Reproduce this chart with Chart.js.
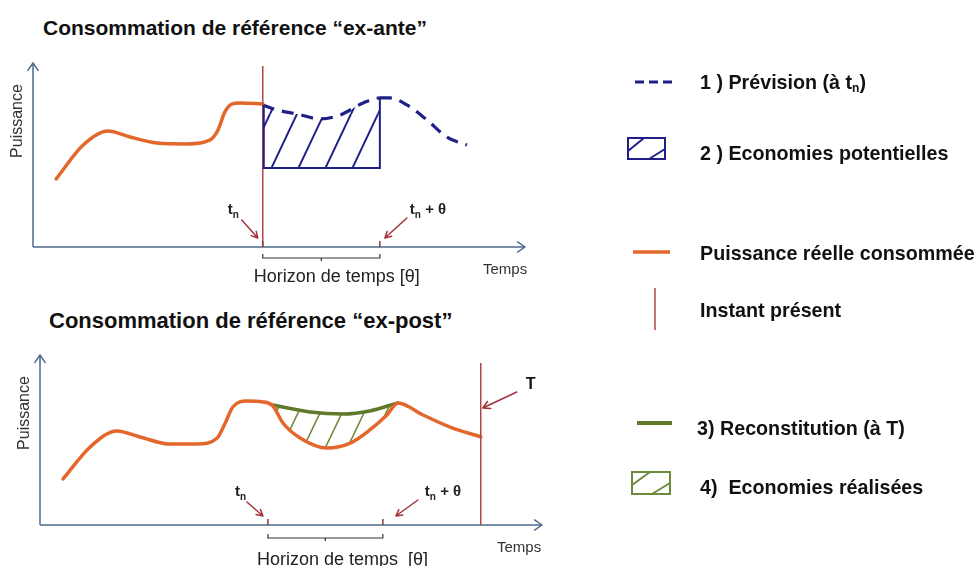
<!DOCTYPE html>
<html lang="fr">
<head>
<meta charset="utf-8">
<title>Consommation de référence ex-ante / ex-post</title>
<script src="https://cdn.jsdelivr.net/npm/chart.js@4.4.1/dist/chart.umd.min.js"></script>
<style>
  body { margin: 0; background: #fff; font-family: "Liberation Sans", Arial, sans-serif; }
  #page { position: relative; width: 978px; height: 566px; overflow: hidden; }
  #page canvas { position: absolute; left: 0; }
  .title { position: absolute; font-weight: bold; line-height: 24px; color: #111; white-space: nowrap; }
  .leg { position: absolute; font-weight: bold; font-size: 19.7px; line-height: 24px; color: #111; white-space: nowrap; }
  .leg sub { font-size: 12px; vertical-align: -3px; line-height: 0; }
  #legSym { position: absolute; left: 0; top: 0; }
</style>
</head>
<body>
<div id="page">
  <div class="title" style="left:43px;top:16px;font-size:21px">Consommation de référence “ex-ante”</div>
  <div class="title" style="left:49px;top:309px;font-size:22px">Consommation de référence “ex-post”</div>
  <canvas id="exAnte" width="600" height="300" style="top:0"></canvas>
  <canvas id="exPost" width="600" height="266" style="top:300px"></canvas>

  <svg id="legSym" width="978" height="566">
    <line x1="635" y1="82" x2="672" y2="82" stroke="#1f1f88" stroke-width="3" stroke-dasharray="9 5"/>
    <rect x="628" y="138" width="37" height="21" fill="none" stroke="#1f1f88" stroke-width="2"/>
    <line x1="628" y1="151" x2="644" y2="138" stroke="#1f1f88" stroke-width="2"/>
    <line x1="649" y1="159" x2="665" y2="149" stroke="#1f1f88" stroke-width="2"/>
    <line x1="633" y1="252" x2="670" y2="252" stroke="#e3672b" stroke-width="3.5"/>
    <line x1="655" y1="288" x2="655" y2="330" stroke="#b04848" stroke-width="1.5"/>
    <line x1="637" y1="423" x2="672" y2="423" stroke="#5f7a2b" stroke-width="4"/>
    <rect x="632" y="472" width="38" height="22" fill="none" stroke="#6b8a3a" stroke-width="2"/>
    <line x1="632" y1="485" x2="650" y2="472" stroke="#6b8a3a" stroke-width="2"/>
    <line x1="652" y1="494" x2="670" y2="483" stroke="#6b8a3a" stroke-width="2"/>
  </svg>
  <div class="leg" style="left:700px;top:70px">1 ) Prévision (à t<sub>n</sub>)</div>
  <div class="leg" style="left:700px;top:141px">2 ) Economies potentielles</div>
  <div class="leg" style="left:700px;top:241px">Puissance réelle consommée</div>
  <div class="leg" style="left:700px;top:298px">Instant présent</div>
  <div class="leg" style="left:697px;top:416px">3) Reconstitution (à T)</div>
  <div class="leg" style="left:700px;top:475px">4)&nbsp; Economies réalisées</div>
</div>

<script>
// ---------- data (time and power in % of the axis length) ----------
// ex-ante : real consumption up to tn, then forecast made at tn
const anteTime = [4.7, 10.2, 15.2, 19.7, 25.2, 31.3, 36.0, 37.6, 39.0, 40.4, 42.1, 46.7];
const antePower = [37.0, 55.4, 63.0, 59.8, 56.5, 56.0, 58.2, 63.6, 73.4, 77.7, 78.3, 77.7];
const forecastTime = [46.7, 49.6, 53.7, 58.3, 62.4, 67.1, 70.5, 72.6, 76.0, 80.1, 84.1, 88.2];
const forecastPower = [77.2, 74.5, 72.3, 69.6, 71.7, 78.3, 81.0, 81.0, 77.2, 69.0, 59.8, 55.4];
const anteTn = 46.7;
const anteTnTheta = 70.5;
const potentialBase = 42.9;
const antePresentTop = 98.4;

// ex-post : real consumption up to T, reconstitution over the horizon
const postTime = [4.6, 10.0, 15.3, 19.9, 25.9, 31.3, 35.3, 36.9, 38.4, 41.2, 44.4, 46.4, 48.4, 51.8, 57.2, 61.8, 65.7, 69.1, 71.3, 76.3, 81.7, 87.8];
const postPower = [27.1, 45.9, 55.3, 51.8, 47.6, 47.6, 51.2, 60.0, 69.4, 72.9, 72.4, 70.0, 60.0, 51.2, 45.3, 48.2, 55.9, 64.7, 71.8, 64.7, 57.6, 51.8];
const reconTime = [46.4, 53.8, 60.4, 65.7, 71.3];
const reconPower = [70.6, 66.5, 65.3, 67.1, 71.8];
const postTn = 45.4;
const postTnTheta = 68.3;
const postT = 87.8;
const postPresentTop = 95.3;

const horizonLabels = ["Horizon de temps [θ]", "Horizon de temps  [θ]"];
const axisLabels = { x: "Temps", y: "Puissance" };

// ---------- styles ----------
const AXIS = "#4d6a8c";
const RED = "#b04848";
const POINTER = "#a3343c";
const ORANGE = "#e3672b";
const BLUE = "#1f1f88";
const GREEN = "#5f7a2b";
const INK = "#222";
const FONT = '"Liberation Sans", Arial, sans-serif';

function pts(xs, ys) {
  return xs.map((x, i) => ({ x: x, y: ys[i] }));
}

// diagonal hatching, tiled so the lines join up
function hatch(color, w, h, lw) {
  const c = document.createElement("canvas");
  c.width = w;
  c.height = h;
  const g = c.getContext("2d");
  g.strokeStyle = color;
  g.lineWidth = lw;
  g.beginPath();
  for (let k = -1; k <= 1; k++) {
    g.moveTo(k * w, h);
    g.lineTo(k * w + w, 0);
  }
  g.stroke();
  return g.createPattern(c, "repeat");
}

function arrow(ctx, x1, y1, x2, y2, color, width, head, spread) {
  const a = Math.atan2(y2 - y1, x2 - x1);
  ctx.save();
  ctx.strokeStyle = color;
  ctx.lineWidth = width;
  ctx.lineCap = "round";
  ctx.lineJoin = "round";
  ctx.beginPath();
  ctx.moveTo(x1, y1);
  ctx.lineTo(x2, y2);
  ctx.moveTo(x2 - head * Math.cos(a - spread), y2 - head * Math.sin(a - spread));
  ctx.lineTo(x2, y2);
  ctx.lineTo(x2 - head * Math.cos(a + spread), y2 - head * Math.sin(a + spread));
  ctx.stroke();
  ctx.restore();
}

// "t" with subscript n, plus an optional suffix
function tLabel(ctx, x, y, suffix) {
  ctx.fillStyle = INK;
  ctx.textBaseline = "middle";
  ctx.textAlign = "left";
  ctx.font = "bold 15px " + FONT;
  ctx.fillText("t", x, y);
  let w = ctx.measureText("t").width;
  ctx.font = "bold 10px " + FONT;
  ctx.fillText("n", x + w, y + 5);
  w += ctx.measureText("n").width;
  if (suffix) {
    ctx.font = "bold 15px " + FONT;
    ctx.fillText(suffix, x + w, y);
  }
}

function makeDecor(p) {
  return {
    id: "decor",
    afterDatasetsDraw(chart) {
      const ctx = chart.ctx;
      const X = (v) => chart.scales.x.getPixelForValue(v);
      const Y = (v) => chart.scales.y.getPixelForValue(v);
      const x0 = X(0), y0 = Y(0), xEnd = X(100), yEnd = Y(100);
      ctx.save();

      // axes with open arrow heads
      ctx.strokeStyle = AXIS;
      ctx.lineWidth = 1.5;
      ctx.beginPath();
      ctx.moveTo(x0, y0);
      ctx.lineTo(xEnd, y0);
      ctx.moveTo(x0, y0);
      ctx.lineTo(x0, yEnd);
      ctx.stroke();
      arrow(ctx, xEnd - 1, y0, xEnd, y0, AXIS, 1.5, 9, 0.6);
      arrow(ctx, x0, yEnd + 1, x0, yEnd, AXIS, 1.5, 9, 0.6);

      // present instant
      ctx.strokeStyle = RED;
      ctx.lineWidth = 1.5;
      ctx.beginPath();
      ctx.moveTo(X(p.present), y0);
      ctx.lineTo(X(p.present), Y(p.presentTop));
      ctx.stroke();

      if (p.extra) p.extra(ctx, X, Y);

      // ticks at tn and tn + θ
      const a = X(p.tn), b = X(p.tnTheta);
      ctx.strokeStyle = "#8a3a3a";
      ctx.lineWidth = 1.5;
      ctx.beginPath();
      ctx.moveTo(a, y0);
      ctx.lineTo(a, y0 - 6);
      ctx.moveTo(b, y0);
      ctx.lineTo(b, y0 - 6);
      ctx.stroke();

      // pointers and labels
      arrow(ctx, a - 21, y0 - p.arrowTop, a - 5, y0 - 9, POINTER, 1.5, 7, 0.5);
      arrow(ctx, b + p.thetaArrowDx, y0 - p.arrowTop - 2, b + p.thetaArrowDx - 22, y0 - 9, POINTER, 1.5, 7, 0.5);
      tLabel(ctx, a - p.tnLabelDx, y0 - p.labelDy);
      tLabel(ctx, b + p.thetaLabelDx, y0 - p.labelDy, " + θ");

      // horizon bracket
      const by = y0 + p.bracketDy;
      ctx.strokeStyle = "#333";
      ctx.lineWidth = 1.2;
      ctx.beginPath();
      ctx.moveTo(a, by - 4);
      ctx.lineTo(a, by);
      ctx.lineTo(b, by);
      ctx.lineTo(b, by - 4);
      ctx.moveTo((a + b) / 2, by);
      ctx.lineTo((a + b) / 2, by + 3);
      ctx.stroke();

      ctx.fillStyle = INK;
      ctx.textBaseline = "middle";
      ctx.textAlign = "left";
      ctx.font = "18px " + FONT;
      ctx.fillText(p.horizon, a - p.horizonDx, y0 + p.horizonDy);
      ctx.font = "15px " + FONT;
      ctx.fillStyle = "#333";
      ctx.fillText(axisLabels.x, xEnd - p.tempsDx, y0 + 23);

      ctx.save();
      ctx.translate(x0 - 15, p.puissanceY);
      ctx.rotate(-Math.PI / 2);
      ctx.textAlign = "center";
      ctx.font = "16px " + FONT;
      ctx.fillText(axisLabels.y, 0, 0);
      ctx.restore();

      ctx.restore();
    },
  };
}

function baseOptions(pad) {
  return {
    responsive: false,
    animation: false,
    devicePixelRatio: 1,
    events: [],
    layout: { padding: pad },
    plugins: {
      legend: { display: false },
      tooltip: { enabled: false },
      title: { display: false },
    },
    scales: {
      x: { type: "linear", display: false, min: 0, max: 100 },
      y: { type: "linear", display: false, min: 0, max: 100 },
    },
    elements: { point: { radius: 0 } },
  };
}

//---------------ex-ante chart--------------------------
const bluePattern = hatch(BLUE, 27, 57, 2);
const thetaIdx = forecastTime.indexOf(anteTnTheta);

new Chart(document.getElementById("exAnte"), {
  type: "line",
  data: {
    datasets: [
      {
        data: pts(anteTime, antePower),
        borderColor: ORANGE,
        borderWidth: 3.5,
        borderCapStyle: "round",
        cubicInterpolationMode: "monotone",
        fill: false,
      },
      {
        data: pts(forecastTime, forecastPower),
        borderColor: BLUE,
        borderWidth: 3.2,
        borderDash: [12, 8],
        cubicInterpolationMode: "monotone",
        backgroundColor: "rgba(0,0,0,0)",
        fill: { value: potentialBase },
        segment: {
          backgroundColor: (c) => (c.p1DataIndex <= thetaIdx ? bluePattern : "rgba(0,0,0,0)"),
        },
      },
    ],
  },
  options: baseOptions({ left: 33, right: 75, top: 63, bottom: 53 }),
  plugins: [
    makeDecor({
      present: anteTn,
      presentTop: antePresentTop,
      tn: anteTn,
      tnTheta: anteTnTheta,
      arrowTop: 27,
      thetaArrowDx: 27,
      tnLabelDx: 35,
      thetaLabelDx: 30,
      labelDy: 37,
      bracketDy: 11,
      horizon: horizonLabels[0],
      horizonDx: 9,
      horizonDy: 30,
      tempsDx: 42,
      puissanceY: 121,
      extra(ctx, X, Y) {
        // outline of the potential savings area
        ctx.strokeStyle = BLUE;
        ctx.lineWidth = 2;
        ctx.beginPath();
        ctx.moveTo(X(anteTn) + 1, Y(forecastPower[0]));
        ctx.lineTo(X(anteTn) + 1, Y(potentialBase));
        ctx.lineTo(X(anteTnTheta), Y(potentialBase));
        ctx.lineTo(X(anteTnTheta), Y(forecastPower[thetaIdx]));
        ctx.stroke();
      },
    }),
  ],
});

//---------------ex-post chart--------------------------
const greenPattern = hatch("#6b8a3a", 22, 46, 1.6);

new Chart(document.getElementById("exPost"), {
  type: "line",
  data: {
    datasets: [
      {
        data: pts(postTime, postPower),
        borderColor: ORANGE,
        borderWidth: 3.5,
        borderCapStyle: "round",
        cubicInterpolationMode: "monotone",
        fill: false,
      },
      {
        data: pts(reconTime, reconPower),
        borderColor: GREEN,
        borderWidth: 3.5,
        borderCapStyle: "round",
        cubicInterpolationMode: "monotone",
        backgroundColor: greenPattern,
        fill: 0,
      },
    ],
  },
  options: baseOptions({ left: 40, right: 58, top: 55, bottom: 41 }),
  plugins: [
    makeDecor({
      present: postT,
      presentTop: postPresentTop,
      tn: postTn,
      tnTheta: postTnTheta,
      arrowTop: 23,
      thetaArrowDx: 35,
      tnLabelDx: 33,
      thetaLabelDx: 42,
      labelDy: 33,
      bracketDy: 13,
      horizon: horizonLabels[1],
      horizonDx: 11,
      horizonDy: 35,
      tempsDx: 45,
      puissanceY: 113,
      extra(ctx, X, Y) {
        const tx = X(postT);
        arrow(ctx, tx + 36, Y(postPresentTop) + 29, tx + 2, Y(postPresentTop) + 45, POINTER, 1.5, 8, 0.5);
        ctx.fillStyle = "#111";
        ctx.font = "bold 16px " + FONT;
        ctx.textBaseline = "middle";
        ctx.textAlign = "left";
        ctx.fillText("T", tx + 45, Y(postPresentTop) + 22);
      },
    }),
  ],
});
</script>
</body>
</html>
